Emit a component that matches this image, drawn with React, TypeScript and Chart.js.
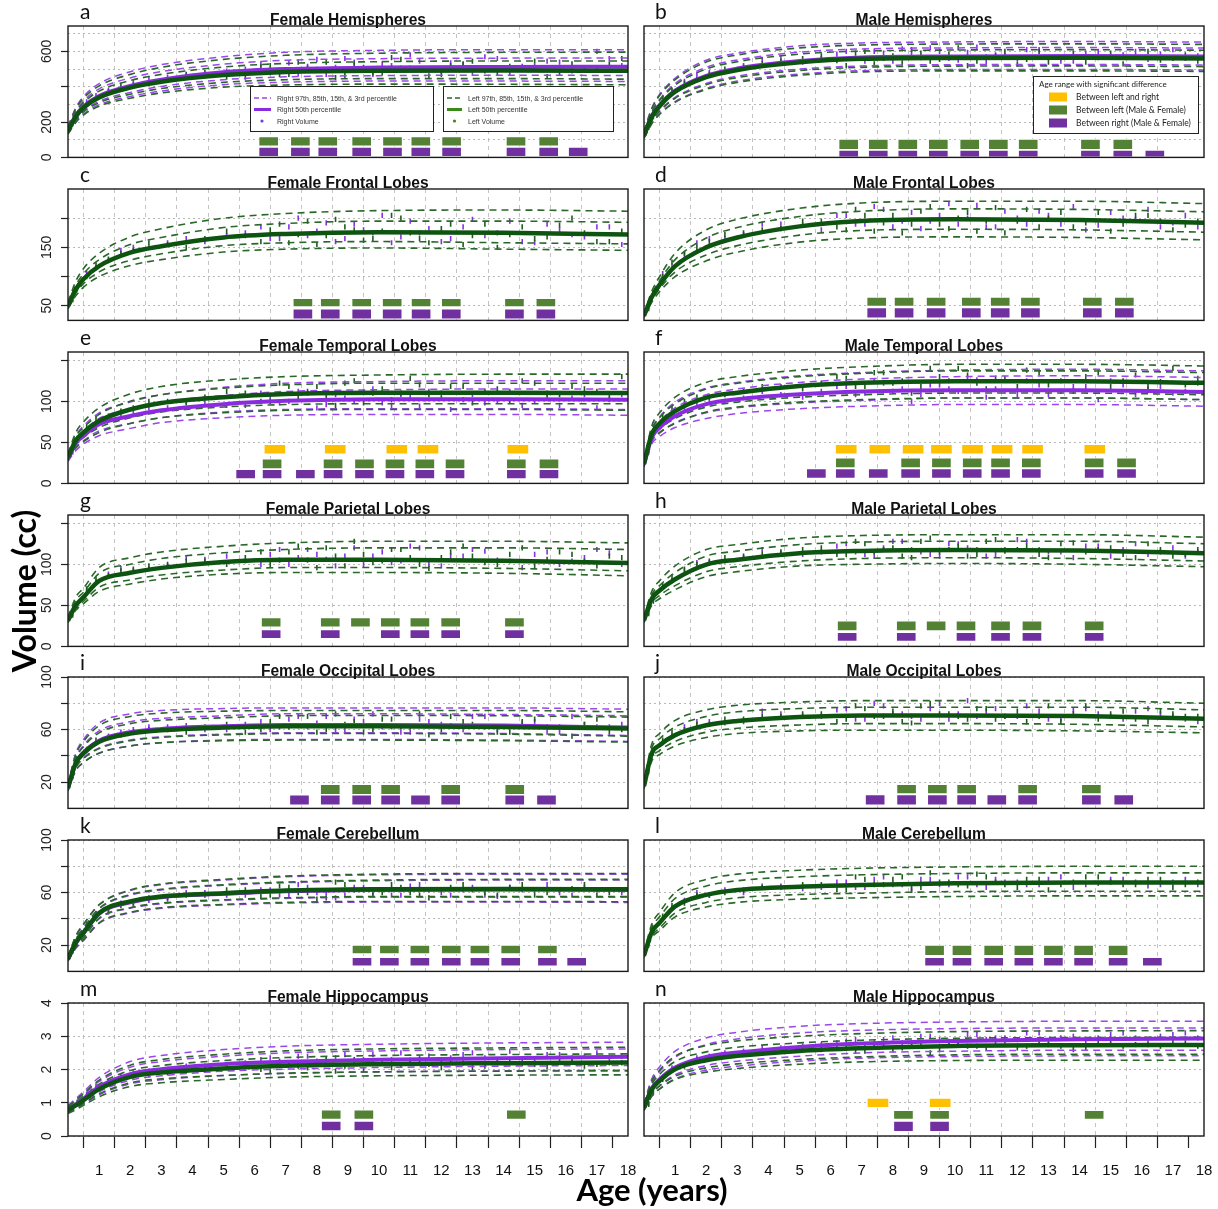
import React, { useEffect, useRef } from "react";
import { Chart, registerables } from "chart.js";

Chart.register(...registerables);

// ---------------- shared axis data ----------------
const AGES = [0, 0.25, 0.5, 1, 2, 3, 5, 7, 10, 14, 18];
const AGE_TICKS = [1, 2, 3, 4, 5, 6, 7, 8, 9, 10, 11, 12, 13, 14, 15, 16, 17, 18];
const SCATTER_AGES = [
  0.3, 0.9, 1.7, 2.6, 3.8, 5.1, 6.2, 6.8, 7.4, 8.0, 8.6, 9.2, 9.8, 10.4, 11.0, 11.6, 12.3, 13.0, 13.8, 14.6, 15.4, 16.2, 17.0, 17.8,
  0.15, 0.6, 1.3, 2.1, 3.2, 4.4, 5.7, 6.5, 7.1, 7.7, 8.3, 8.9, 9.5, 10.1, 10.7, 11.3, 12.0, 12.7, 13.4, 14.2, 15.0, 15.8, 16.6, 17.4,
];
const PERCENTILES = ["97th", "85th", "50th", "15th", "3rd"];

const PANEL_LETTERS = ["a", "b", "c", "d", "e", "f", "g", "h", "i", "j", "k", "l", "m", "n"];
const PANEL_TITLES = [
  "Female Hemispheres", "Male Hemispheres",
  "Female Frontal Lobes", "Male Frontal Lobes",
  "Female Temporal Lobes", "Male Temporal Lobes",
  "Female Parietal Lobes", "Male Parietal Lobes",
  "Female Occipital Lobes", "Male Occipital Lobes",
  "Female Cerebellum", "Male Cerebellum",
  "Female Hippocampus", "Male Hippocampus",
];

// y axis per row
const ROW_MIN = [0, 25, 0, 0, 0, 0, 0];
const ROW_MAX = [744, 250, 160, 160, 100, 100, 4];
const ROW_GRID = [
  [0, 100, 200, 300, 400, 500, 600, 700],
  [50, 100, 150, 200],
  [0, 50, 100, 150],
  [0, 50, 100, 150],
  [20, 40, 60, 80, 100],
  [20, 40, 60, 80, 100],
  [0, 1, 2, 3, 4],
];
const ROW_TICK_MARKS = [
  [0, 200, 400, 600],
  [50, 100, 150, 200],
  [0, 50, 100, 150],
  [0, 50, 100, 150],
  [20, 40, 60, 80, 100],
  [20, 40, 60, 80, 100],
  [0, 1, 2, 3, 4],
];
const ROW_TICK_LABELS = [
  [0, 200, 600],
  [50, 150],
  [0, 50, 100],
  [0, 50, 100],
  [20, 60, 100],
  [20, 60, 100],
  [0, 1, 2, 3, 4],
];

// ---------------- a: Female Hemispheres ----------------
const A_LEFT = [
  [172, 275, 335, 405, 470, 510, 555, 578, 590, 595, 596],
  [162, 255, 310, 375, 435, 470, 512, 532, 542, 546, 546],
  [150, 232, 282, 340, 395, 428, 466, 484, 491, 492, 490],
  [140, 212, 258, 310, 358, 390, 425, 440, 446, 446, 443],
  [132, 198, 240, 290, 335, 365, 398, 410, 415, 414, 411],
];
const A_RIGHT = [
  [175, 282, 345, 418, 485, 525, 570, 595, 606, 610, 610],
  [165, 262, 320, 388, 450, 486, 528, 550, 559, 562, 563],
  [152, 236, 288, 348, 405, 440, 482, 500, 509, 512, 513],
  [142, 216, 264, 318, 368, 402, 440, 456, 463, 465, 464],
  [134, 202, 246, 298, 345, 376, 412, 426, 432, 432, 430],
];
const A_DOTS_L = [235, 335, 402, 420, 470, 455, 512, 468, 540, 498, 452, 530, 478, 565, 505, 462, 520, 545, 480, 500, 458, 530, 495, 560,
  190, 300, 372, 410, 440, 480, 455, 520, 470, 505, 540, 465, 510, 480, 555, 500, 470, 530, 490, 515, 545, 475, 505, 530];
const A_DOTS_R = [240, 350, 390, 445, 462, 488, 530, 495, 475, 555, 510, 540, 470, 520, 580, 498, 535, 478, 560, 515, 545, 490, 600, 520,
  195, 315, 380, 425, 455, 470, 500, 480, 535, 515, 470, 560, 495, 530, 505, 545, 490, 525, 570, 480, 515, 540, 500, 560];
const A_GREEN_AT = [6.45, 7.47, 8.35, 9.44, 10.43, 11.34, 12.33, 14.4, 15.45];
const A_GREEN_SPAN = [64, 118];
const A_PURPLE_AT = [6.45, 7.47, 8.35, 9.44, 10.43, 11.34, 12.33, 14.4, 15.45, 16.4];
const A_PURPLE_SPAN = [4, 58];

// ---------------- b: Male Hemispheres ----------------
const B_LEFT = [
  [145, 275, 350, 440, 540, 580, 620, 636, 642, 643, 640],
  [135, 255, 322, 410, 500, 542, 585, 602, 608, 610, 607],
  [125, 230, 290, 372, 455, 495, 538, 558, 563, 564, 560],
  [115, 205, 260, 335, 412, 452, 492, 510, 517, 518, 514],
  [108, 190, 243, 312, 385, 425, 465, 484, 490, 490, 487],
];
const B_RIGHT = [
  [148, 280, 356, 448, 550, 590, 632, 648, 654, 656, 653],
  [138, 260, 328, 418, 510, 552, 596, 614, 620, 622, 619],
  [127, 234, 295, 378, 462, 503, 546, 566, 572, 574, 571],
  [117, 208, 264, 340, 418, 460, 500, 518, 525, 526, 523],
  [110, 193, 247, 316, 390, 432, 472, 491, 498, 498, 495],
];
const B_DOTS_L = [230, 380, 440, 500, 530, 560, 548, 590, 530, 575, 610, 545, 585, 520, 570, 600, 555, 540, 590, 565, 530, 600, 560, 545,
  170, 330, 420, 470, 510, 545, 575, 520, 600, 560, 535, 590, 555, 620, 545, 575, 530, 600, 565, 540, 590, 570, 550, 580];
const B_DOTS_R = [235, 370, 470, 485, 555, 540, 585, 560, 600, 545, 590, 620, 560, 595, 540, 575, 610, 565, 545, 600, 580, 555, 610, 575,
  175, 340, 430, 480, 520, 560, 560, 600, 545, 590, 615, 565, 600, 550, 625, 580, 560, 610, 545, 590, 570, 600, 585, 560];
const B_GREEN_AT = [6.58, 7.53, 8.48, 9.46, 10.47, 11.39, 12.35, 14.35, 15.39];
const B_GREEN_SPAN = [44, 104];
const B_PURPLE_AT = [6.58, 7.53, 8.48, 9.46, 10.47, 11.39, 12.35, 14.35, 15.39, 16.42];
const B_PURPLE_SPAN = [2, 42];

// ---------------- c: Female Frontal ----------------
const C_LEFT = [
  [56, 92, 114, 140, 168, 182, 200, 208, 213, 214, 212],
  [53, 85, 105, 129, 155, 167, 184, 191, 195, 195, 193],
  [50, 78, 96, 118, 141, 152, 167, 173, 176, 175, 172],
  [47, 72, 88, 108, 128, 139, 153, 158, 160, 158, 156],
  [45, 67, 82, 100, 119, 129, 142, 147, 149, 147, 145],
];
const C_DOTS_L = [80, 120, 140, 158, 150, 178, 160, 190, 172, 155, 198, 180, 165, 205, 175, 158, 190, 170, 150, 185, 168, 200, 160, 178,
  60, 100, 130, 145, 155, 165, 170, 180, 158, 195, 170, 185, 162, 178, 200, 165, 182, 155, 190, 172, 165, 188, 175, 160];
const C_DOTS_R = [82, 115, 145, 150, 165, 170, 185, 165, 200, 178, 160, 190, 175, 158, 195, 182, 165, 198, 175, 160, 190, 172, 185, 155,
  62, 105, 128, 150, 158, 160, 175, 165, 185, 170, 192, 165, 180, 205, 168, 175, 160, 185, 170, 195, 158, 180, 168, 185];
const C_GREEN_AT = [7.55, 8.43, 9.44, 10.42, 11.35, 12.32, 14.35, 15.36];
const C_GREEN_SPAN = [48, 63];
const C_PURPLE_AT = [7.55, 8.43, 9.44, 10.42, 11.35, 12.32, 14.35, 15.36];
const C_PURPLE_SPAN = [27, 45];

// ---------------- d: Male Frontal ----------------
const D_LEFT = [
  [36, 75, 100, 140, 180, 198, 217, 226, 229, 229, 225],
  [35, 70, 93, 129, 166, 184, 203, 212, 216, 215, 211],
  [33, 65, 86, 118, 150, 167, 186, 195, 198, 197, 192],
  [31, 60, 79, 108, 137, 153, 171, 179, 181, 180, 176],
  [30, 56, 74, 100, 127, 142, 159, 166, 168, 167, 163],
];
const D_DOTS_L = [70, 125, 150, 172, 180, 195, 185, 215, 178, 205, 190, 220, 182, 210, 195, 175, 215, 200, 185, 210, 190, 205, 180, 195,
  45, 100, 140, 160, 175, 182, 195, 180, 205, 192, 175, 212, 190, 200, 178, 218, 195, 185, 210, 192, 178, 205, 195, 188];
const D_DOTS_R = [72, 118, 158, 165, 190, 188, 205, 190, 220, 185, 210, 195, 225, 200, 185, 212, 190, 205, 220, 188, 200, 215, 192, 185,
  48, 105, 138, 165, 172, 190, 180, 205, 190, 215, 195, 182, 205, 190, 222, 185, 200, 212, 190, 180, 210, 198, 185, 205];
const D_GREEN_AT = [7.48, 8.36, 9.39, 10.52, 11.45, 12.42, 14.41, 15.44];
const D_GREEN_SPAN = [49, 65];
const D_PURPLE_AT = [7.48, 8.36, 9.39, 10.52, 11.45, 12.42, 14.41, 15.44];
const D_PURPLE_SPAN = [29, 47];

// ---------------- e: Female Temporal ----------------
const E_LEFT = [
  [36, 62, 75, 92, 109, 118, 126, 130, 132, 133, 133],
  [34, 57, 68, 84, 100, 108, 116, 120, 122, 122, 122],
  [32, 52, 62, 76, 90, 98, 105, 109, 110.5, 110.5, 110],
  [30, 47, 56, 68, 80, 87, 93, 96, 97, 97, 97],
  [28, 43, 51, 62, 73, 80, 86, 89, 90, 90, 89],
];
const E_RIGHT = [
  [35, 58, 70, 86, 99, 108, 117, 122, 124, 125, 125],
  [33, 53, 64, 79, 91, 99, 107, 112, 114, 115, 115],
  [31, 49, 58, 72, 82, 89, 96.5, 100.5, 102.5, 102.5, 102],
  [29, 44, 52, 64, 73, 80, 87, 90, 91, 91, 90],
  [27, 40, 48, 58, 67, 74, 80, 83, 84, 84, 83],
];
const E_DOTS_L = [55, 78, 88, 100, 98, 112, 100, 122, 105, 118, 95, 125, 110, 102, 128, 108, 118, 98, 115, 125, 105, 118, 112, 130,
  40, 68, 82, 92, 100, 105, 110, 100, 118, 112, 105, 122, 98, 115, 110, 120, 104, 118, 112, 100, 122, 108, 115, 105];
const E_DOTS_R = [52, 72, 85, 92, 100, 95, 110, 98, 112, 92, 108, 100, 115, 95, 105, 112, 90, 108, 100, 95, 110, 104, 92, 108,
  38, 65, 78, 85, 92, 98, 95, 105, 100, 110, 96, 104, 112, 98, 108, 94, 110, 102, 98, 112, 100, 95, 108, 102];
const E_YELLOW_AT = [6.65, 8.59, 10.57, 11.57, 14.46];
const E_YELLOW_SPAN = [35.5, 47.5];
const E_GREEN_AT = [6.56, 8.52, 9.53, 10.51, 11.47, 12.44, 14.41, 15.46];
const E_GREEN_SPAN = [17.5, 30];
const E_PURPLE_AT = [5.71, 6.56, 7.63, 8.52, 9.53, 10.51, 11.47, 12.44, 14.41, 15.46];
const E_PURPLE_SPAN = [5.5, 17];

// ---------------- f: Male Temporal ----------------
const F_LEFT = [
  [27, 70, 86, 105, 123, 130, 138, 142, 145, 145, 143],
  [26, 65, 80, 97, 115, 122, 130, 134, 137, 137, 135],
  [24, 60, 73, 88, 104.5, 110.5, 118.5, 122.5, 124.5, 124.5, 122.5],
  [22, 55, 66, 79, 93, 99, 105, 108, 110, 110, 108],
  [21, 52, 62, 73, 87, 93, 99, 102, 104, 104, 102],
];
const F_RIGHT = [
  [26, 66, 81, 99, 116, 123, 131, 135, 138, 139, 137],
  [25, 62, 75, 92, 108, 115, 123, 127, 130, 131, 129],
  [23, 56, 68, 82, 96.5, 102.5, 108.5, 111.8, 113.4, 113.4, 111.4],
  [21, 51, 61, 74, 86, 92, 98, 101, 104, 104, 102],
  [20, 48, 57, 68, 79, 85, 91, 94, 96, 96, 94],
];
const F_DOTS_L = [62, 92, 105, 108, 118, 115, 130, 118, 135, 122, 110, 140, 125, 132, 115, 128, 138, 120, 112, 135, 125, 118, 140, 128,
  40, 82, 100, 105, 112, 118, 122, 128, 118, 135, 125, 118, 130, 140, 122, 128, 118, 135, 125, 130, 118, 132, 124, 120];
const F_DOTS_R = [58, 84, 98, 100, 112, 105, 118, 108, 125, 112, 100, 120, 115, 128, 105, 112, 125, 108, 118, 102, 120, 115, 110, 122,
  38, 76, 92, 100, 104, 108, 112, 118, 110, 122, 115, 108, 120, 112, 126, 115, 108, 120, 112, 118, 125, 108, 118, 112];
const F_YELLOW_AT = [6.5, 7.58, 8.65, 9.56, 10.56, 11.51, 12.49, 14.49];
const F_YELLOW_SPAN = [35.5, 47.5];
const F_GREEN_AT = [6.47, 8.57, 9.56, 10.55, 11.46, 12.45, 14.47, 15.51];
const F_GREEN_SPAN = [19, 31];
const F_PURPLE_AT = [5.54, 6.47, 7.53, 8.57, 9.56, 10.55, 11.46, 12.45, 14.47, 15.51];
const F_PURPLE_SPAN = [6, 18];

// ---------------- g: Female Parietal ----------------
const G_LEFT = [
  [35, 60, 71, 96, 108, 115, 122, 126, 128, 128, 126],
  [34, 56, 66, 89, 100, 107, 114, 118, 120, 120, 118],
  [32, 50, 60, 79.7, 89.6, 95.6, 102.8, 105.6, 105.6, 104.4, 101.6],
  [30, 47, 55, 72, 81, 87, 93, 96, 96, 95, 92],
  [29, 44, 52, 67, 76, 82, 88, 90, 90, 89, 86],
];
const G_DOTS_L = [48, 82, 92, 98, 104, 100, 115, 105, 122, 96, 110, 128, 102, 118, 108, 95, 115, 110, 100, 120, 106, 112, 98, 108,
  38, 70, 86, 94, 100, 104, 108, 100, 115, 105, 120, 98, 112, 104, 118, 100, 108, 122, 102, 112, 98, 115, 104, 110];
const G_DOTS_R = [50, 78, 95, 95, 108, 110, 100, 118, 108, 112, 98, 120, 110, 102, 122, 100, 110, 118, 105, 96, 115, 104, 118, 100,
  40, 68, 88, 92, 98, 106, 104, 112, 100, 118, 106, 110, 100, 115, 104, 120, 98, 110, 116, 104, 112, 100, 108, 114];
const G_GREEN_AT = [6.53, 8.43, 9.4, 10.36, 11.31, 12.3, 14.35];
const G_GREEN_SPAN = [23.5, 35];
const G_PURPLE_AT = [6.53, 8.43, 10.36, 11.31, 12.3, 14.35];
const G_PURPLE_SPAN = [9.5, 20.5];

// ---------------- h: Male Parietal ----------------
const H_LEFT = [
  [35, 67, 80, 98, 118, 124, 132, 135, 136, 136, 133],
  [34, 63, 74, 90, 110, 116, 124, 127, 128, 128, 125],
  [32, 58, 68, 81.7, 99.6, 105.6, 113.5, 116.3, 117.5, 116.7, 113.5],
  [30, 53, 62, 74, 91, 97, 104, 107, 108, 107, 104],
  [29, 50, 58, 69, 85, 91, 98, 100, 101, 100, 97],
];
const H_DOTS_L = [55, 85, 100, 108, 112, 118, 112, 128, 115, 120, 108, 132, 118, 110, 128, 116, 122, 108, 126, 118, 112, 125, 110, 118,
  40, 74, 94, 104, 110, 115, 120, 112, 125, 118, 110, 128, 115, 122, 112, 130, 118, 112, 125, 115, 120, 108, 118, 112];
const H_DOTS_R = [57, 80, 102, 104, 118, 112, 122, 115, 110, 128, 118, 112, 125, 120, 110, 118, 128, 115, 108, 122, 118, 112, 120, 115,
  42, 72, 92, 102, 108, 114, 115, 125, 112, 120, 128, 115, 110, 125, 118, 112, 130, 118, 115, 122, 110, 125, 115, 110];
const H_GREEN_AT = [6.53, 8.43, 9.39, 10.35, 11.46, 12.47, 14.47];
const H_GREEN_SPAN = [19, 31];
const H_PURPLE_AT = [6.53, 8.43, 10.35, 11.46, 12.47, 14.47];
const H_PURPLE_SPAN = [6, 17];

// ---------------- i: Female Occipital ----------------
const I_LEFT = [
  [18, 41, 51, 63, 70, 72.5, 74, 74.5, 74.5, 74.5, 73.5],
  [17, 38, 47, 57.5, 64.5, 67, 69, 70.5, 70.75, 70.5, 69.5],
  [15.75, 34.5, 42, 50.75, 57, 59.5, 61.5, 62.5, 62.5, 62, 60.75],
  [14.5, 31, 38, 45.5, 51.5, 54, 56, 57, 57, 56.5, 55],
  [13.5, 29, 35, 42, 47.5, 50, 51.5, 52, 52, 51.5, 50.5],
];
const I_RIGHT = [
  [18, 42, 52.5, 65, 72, 74.5, 76, 76.5, 76.5, 76.5, 75.5],
  [17, 38.5, 48, 59, 66, 68.5, 70.5, 72, 72, 71.5, 70.5],
  [15.5, 34.5, 42.5, 51.5, 58, 60.5, 62.5, 63.5, 63.5, 63, 61.5],
  [14.5, 31, 38.5, 46, 52, 54.5, 56.5, 57.5, 57.5, 57, 55.5],
  [13.5, 28.5, 35, 42, 47.5, 50, 52, 52.5, 52.5, 52, 51],
];
const I_DOTS_L = [36, 52, 56, 60, 58, 64, 60, 70, 63, 58, 72, 66, 60, 68, 62, 56, 70, 64, 58, 66, 62, 55, 68, 60,
  24, 45, 54, 58, 60, 62, 58, 66, 62, 70, 60, 64, 58, 68, 62, 72, 60, 66, 62, 58, 68, 62, 64, 58];
const I_DOTS_R = [35, 50, 58, 62, 63, 60, 66, 62, 70, 65, 60, 68, 72, 62, 58, 66, 63, 70, 60, 65, 58, 70, 62, 64,
  25, 44, 55, 60, 62, 60, 64, 60, 68, 62, 70, 60, 66, 62, 58, 68, 64, 60, 70, 62, 66, 58, 64, 62];
const I_GREEN_AT = [8.43, 9.44, 10.37, 12.3, 14.36];
const I_GREEN_SPAN = [10.5, 18.25];
const I_PURPLE_AT = [7.44, 8.43, 9.44, 10.37, 11.33, 12.3, 14.36, 15.38];
const I_PURPLE_SPAN = [2.5, 10.25];

// ---------------- j: Male Occipital ----------------
const J_LEFT = [
  [19, 49, 57, 67, 75, 78.5, 81, 82, 82, 82, 80],
  [18, 46, 53, 62, 70, 73.5, 76, 77, 77, 77, 75],
  [17, 42, 48, 55.75, 63.25, 66.5, 69.5, 70.75, 70.75, 70.25, 68.25],
  [16, 38, 44, 51, 58, 61, 63.5, 64.5, 64.5, 64, 62],
  [15, 36, 41, 47.5, 54, 57, 59, 59.5, 59.5, 59, 57.5],
];
const J_DOTS_L = [42, 58, 64, 68, 70, 72, 66, 78, 70, 74, 65, 80, 72, 68, 76, 70, 66, 78, 72, 68, 74, 66, 72, 70,
  28, 52, 60, 64, 68, 70, 72, 68, 76, 70, 66, 78, 72, 70, 76, 68, 74, 70, 66, 78, 72, 68, 74, 70];
const J_DOTS_R = [44, 55, 66, 65, 74, 70, 75, 68, 80, 72, 70, 76, 68, 82, 74, 70, 78, 68, 75, 72, 68, 76, 70, 66,
  30, 50, 62, 66, 66, 72, 70, 76, 68, 78, 72, 68, 80, 72, 70, 76, 70, 74, 68, 76, 70, 74, 72, 68];
const J_GREEN_AT = [8.44, 9.43, 10.37, 12.33, 14.38];
const J_GREEN_SPAN = [11, 18.25];
const J_PURPLE_AT = [7.43, 8.44, 9.43, 10.37, 11.34, 12.33, 14.38, 15.42];
const J_PURPLE_SPAN = [2.5, 10.5];

// ---------------- k: Female Cerebellum ----------------
const K_LEFT = [
  [11, 27, 36, 50.75, 62, 66.5, 70, 72.5, 74, 74.5, 74.5],
  [10.5, 25, 33, 48, 58.5, 62.5, 66, 68, 69.5, 70, 70],
  [9.5, 22, 29.5, 44.5, 53.25, 57, 59.5, 61.5, 62.5, 62.75, 62.5],
  [8.5, 19.5, 26, 40.5, 48.5, 52, 54.5, 56, 57, 57, 57],
  [8, 18, 24, 37, 45, 48.5, 51, 52.5, 53.25, 53.25, 53],
];
const K_RIGHT = [
  [11, 26.5, 35.5, 50.5, 61.5, 66, 69.5, 72, 73.5, 74, 74],
  [10.5, 24.5, 32.5, 47.5, 58, 62, 65.5, 67.5, 69, 69.5, 69.5],
  [9.5, 21.5, 29, 44, 52.5, 56.5, 59, 61, 62, 62.25, 62],
  [8.5, 19, 25.5, 40, 48, 51.5, 54, 55.5, 56.5, 56.5, 56.5],
  [8, 17.5, 23.5, 36.5, 44.5, 48, 50.5, 52, 52.75, 52.75, 52.5],
];
const K_DOTS_L = [25, 44, 50, 56, 58, 62, 57, 65, 60, 55, 68, 62, 58, 66, 60, 56, 64, 62, 58, 66, 60, 63, 58, 62,
  16, 36, 46, 52, 56, 58, 62, 58, 64, 60, 56, 66, 62, 60, 64, 58, 62, 66, 60, 64, 58, 62, 66, 60];
const K_DOTS_R = [24, 42, 52, 54, 60, 58, 62, 58, 66, 60, 56, 64, 60, 58, 65, 62, 58, 64, 57, 62, 66, 58, 62, 60,
  15, 35, 45, 52, 55, 60, 58, 62, 58, 64, 60, 58, 64, 62, 58, 66, 60, 62, 58, 64, 62, 60, 64, 62];
const K_GREEN_AT = [9.45, 10.33, 11.31, 12.32, 13.24, 14.23, 15.41];
const K_GREEN_SPAN = [13.25, 20];
const K_PURPLE_AT = [9.45, 10.33, 11.31, 12.32, 13.24, 14.23, 15.41, 16.35];
const K_PURPLE_SPAN = [4, 10.75];

// ---------------- l: Male Cerebellum ----------------
const L_LEFT = [
  [14, 36, 45, 60, 70, 74, 77, 78.5, 79.5, 80, 80],
  [13, 33.5, 41.5, 55.5, 65, 69, 72, 73.5, 74.5, 75, 75],
  [12, 30, 37, 49.5, 58.25, 62, 64.5, 65.75, 67, 67.75, 67.75],
  [11, 27, 33, 44.5, 52.5, 56, 58.5, 59.5, 60.75, 61, 61],
  [10.5, 25.5, 31, 41.5, 49, 52.5, 55, 56, 57, 57.5, 57.5],
];
const L_DOTS_L = [32, 50, 58, 60, 64, 66, 62, 72, 66, 70, 63, 75, 68, 65, 72, 66, 70, 62, 68, 72, 66, 70, 64, 68,
  20, 42, 52, 58, 62, 64, 66, 62, 70, 66, 72, 64, 68, 66, 74, 68, 64, 70, 66, 72, 68, 66, 70, 66];
const L_DOTS_R = [30, 48, 60, 62, 65, 63, 68, 64, 70, 66, 62, 70, 66, 72, 64, 68, 66, 70, 64, 67, 70, 65, 68, 66,
  22, 40, 54, 58, 60, 65, 64, 68, 64, 72, 66, 70, 66, 72, 66, 70, 68, 66, 72, 66, 70, 68, 66, 70];
const L_GREEN_AT = [9.34, 10.22, 11.24, 12.21, 13.16, 14.13, 15.24];
const L_GREEN_SPAN = [12, 20];
const L_PURPLE_AT = [9.34, 10.22, 11.24, 12.21, 13.16, 14.13, 15.24, 16.34];
const L_PURPLE_SPAN = [4, 10.75];

// ---------------- m: Female Hippocampus ----------------
const M_LEFT = [
  [0.9, 1.08, 1.28, 1.68, 2.13, 2.3, 2.46, 2.56, 2.62, 2.65, 2.67],
  [0.85, 1.01, 1.19, 1.56, 1.97, 2.12, 2.27, 2.36, 2.42, 2.45, 2.47],
  [0.78, 0.92, 1.08, 1.41, 1.78, 1.91, 2.03, 2.11, 2.16, 2.19, 2.21],
  [0.72, 0.84, 0.98, 1.27, 1.6, 1.72, 1.82, 1.89, 1.93, 1.95, 1.96],
  [0.68, 0.79, 0.92, 1.18, 1.49, 1.6, 1.7, 1.77, 1.81, 1.83, 1.84],
];
const M_RIGHT = [
  [0.92, 1.12, 1.33, 1.76, 2.24, 2.42, 2.6, 2.7, 2.76, 2.8, 2.82],
  [0.87, 1.05, 1.24, 1.64, 2.07, 2.24, 2.4, 2.5, 2.56, 2.6, 2.62],
  [0.8, 0.95, 1.12, 1.48, 1.86, 2.01, 2.16, 2.23, 2.29, 2.34, 2.38],
  [0.74, 0.87, 1.02, 1.33, 1.68, 1.81, 1.95, 2.01, 2.06, 2.1, 2.12],
  [0.7, 0.82, 0.96, 1.24, 1.57, 1.69, 1.82, 1.88, 1.93, 1.96, 1.98],
];
const M_DOTS_L = [1.0, 1.42, 1.72, 1.85, 1.95, 2.05, 2.0, 2.25, 2.1, 2.15, 1.95, 2.3, 2.18, 2.05, 2.28, 2.15, 2.22, 2.05, 2.3, 2.18, 2.08, 2.25, 2.15, 2.2,
  0.85, 1.2, 1.6, 1.8, 1.9, 2.0, 2.1, 1.95, 2.2, 2.05, 2.3, 2.1, 2.0, 2.25, 2.15, 2.3, 2.05, 2.2, 2.1, 2.3, 2.15, 2.25, 2.1, 2.2];
const M_DOTS_R = [1.02, 1.5, 1.8, 1.95, 2.1, 2.15, 2.3, 2.2, 2.4, 2.25, 2.35, 2.2, 2.45, 2.3, 2.2, 2.4, 2.35, 2.5, 2.3, 2.25, 2.45, 2.35, 2.5, 2.4,
  0.88, 1.25, 1.65, 1.9, 2.0, 2.1, 2.2, 2.35, 2.15, 2.4, 2.25, 2.45, 2.3, 2.2, 2.5, 2.35, 2.3, 2.45, 2.35, 2.55, 2.3, 2.45, 2.4, 2.35];
const M_GREEN_AT = [8.46, 9.51, 14.41];
const M_GREEN_SPAN = [0.5, 0.79];
const M_PURPLE_AT = [8.46, 9.51];
const M_PURPLE_SPAN = [0.15, 0.45];

// ---------------- n: Male Hippocampus ----------------
const N_LEFT = [
  [0.95, 1.65, 1.98, 2.4, 2.72, 2.86, 3.0, 3.08, 3.14, 3.16, 3.17],
  [0.9, 1.55, 1.85, 2.24, 2.53, 2.67, 2.8, 2.88, 2.94, 2.96, 2.97],
  [0.85, 1.4, 1.66, 2.01, 2.28, 2.41, 2.56, 2.64, 2.71, 2.73, 2.74],
  [0.8, 1.27, 1.5, 1.8, 2.05, 2.17, 2.3, 2.38, 2.44, 2.46, 2.46],
  [0.77, 1.2, 1.41, 1.7, 1.92, 2.03, 2.16, 2.23, 2.27, 2.28, 2.28],
];
const N_RIGHT = [
  [0.97, 1.72, 2.08, 2.55, 2.95, 3.12, 3.3, 3.38, 3.43, 3.45, 3.45],
  [0.92, 1.6, 1.93, 2.37, 2.75, 2.92, 3.1, 3.18, 3.23, 3.25, 3.25],
  [0.86, 1.43, 1.7, 2.06, 2.38, 2.51, 2.68, 2.78, 2.86, 2.91, 2.93],
  [0.8, 1.28, 1.52, 1.84, 2.12, 2.25, 2.4, 2.5, 2.55, 2.58, 2.58],
  [0.76, 1.19, 1.42, 1.72, 1.98, 2.1, 2.25, 2.34, 2.39, 2.41, 2.41],
];
const N_DOTS_L = [1.3, 2.0, 2.3, 2.45, 2.55, 2.6, 2.65, 2.55, 2.8, 2.6, 2.7, 2.5, 2.8, 2.7, 2.65, 2.85, 2.7, 2.75, 2.6, 2.8, 2.7, 2.75, 2.85, 2.7,
  0.95, 1.7, 2.1, 2.35, 2.45, 2.55, 2.6, 2.7, 2.55, 2.75, 2.65, 2.8, 2.6, 2.75, 2.7, 2.85, 2.65, 2.8, 2.7, 2.65, 2.85, 2.75, 2.7, 2.8];
const N_DOTS_R = [1.35, 2.05, 2.35, 2.5, 2.65, 2.7, 2.8, 2.9, 2.7, 2.95, 2.8, 3.0, 2.85, 3.05, 2.9, 2.95, 3.1, 2.85, 3.0, 2.95, 3.1, 2.9, 3.05, 2.95,
  0.98, 1.75, 2.15, 2.4, 2.55, 2.65, 2.75, 2.85, 2.7, 2.9, 2.8, 3.0, 2.9, 2.8, 3.05, 2.95, 2.9, 3.1, 2.95, 2.85, 3.05, 2.95, 3.0, 3.1];
const N_YELLOW_AT = [7.52, 9.52];
const N_YELLOW_SPAN = [0.85, 1.14];
const N_GREEN_AT = [8.34, 9.5, 14.47];
const N_GREEN_SPAN = [0.5, 0.77];
const N_PURPLE_AT = [8.34, 9.5];
const N_PURPLE_SPAN = [0.13, 0.45];

// table built from the named arrays above
const PANELS: any[] = [
  { left: A_LEFT, right: A_RIGHT, dotsL: A_DOTS_L, dotsR: A_DOTS_R, g: [A_GREEN_AT, A_GREEN_SPAN], p: [A_PURPLE_AT, A_PURPLE_SPAN], y: null },
  { left: B_LEFT, right: B_RIGHT, dotsL: B_DOTS_L, dotsR: B_DOTS_R, g: [B_GREEN_AT, B_GREEN_SPAN], p: [B_PURPLE_AT, B_PURPLE_SPAN], y: null },
  { left: C_LEFT, right: null, dotsL: C_DOTS_L, dotsR: C_DOTS_R, g: [C_GREEN_AT, C_GREEN_SPAN], p: [C_PURPLE_AT, C_PURPLE_SPAN], y: null },
  { left: D_LEFT, right: null, dotsL: D_DOTS_L, dotsR: D_DOTS_R, g: [D_GREEN_AT, D_GREEN_SPAN], p: [D_PURPLE_AT, D_PURPLE_SPAN], y: null },
  { left: E_LEFT, right: E_RIGHT, dotsL: E_DOTS_L, dotsR: E_DOTS_R, g: [E_GREEN_AT, E_GREEN_SPAN], p: [E_PURPLE_AT, E_PURPLE_SPAN], y: [E_YELLOW_AT, E_YELLOW_SPAN] },
  { left: F_LEFT, right: F_RIGHT, dotsL: F_DOTS_L, dotsR: F_DOTS_R, g: [F_GREEN_AT, F_GREEN_SPAN], p: [F_PURPLE_AT, F_PURPLE_SPAN], y: [F_YELLOW_AT, F_YELLOW_SPAN] },
  { left: G_LEFT, right: null, dotsL: G_DOTS_L, dotsR: G_DOTS_R, g: [G_GREEN_AT, G_GREEN_SPAN], p: [G_PURPLE_AT, G_PURPLE_SPAN], y: null },
  { left: H_LEFT, right: null, dotsL: H_DOTS_L, dotsR: H_DOTS_R, g: [H_GREEN_AT, H_GREEN_SPAN], p: [H_PURPLE_AT, H_PURPLE_SPAN], y: null },
  { left: I_LEFT, right: I_RIGHT, dotsL: I_DOTS_L, dotsR: I_DOTS_R, g: [I_GREEN_AT, I_GREEN_SPAN], p: [I_PURPLE_AT, I_PURPLE_SPAN], y: null },
  { left: J_LEFT, right: null, dotsL: J_DOTS_L, dotsR: J_DOTS_R, g: [J_GREEN_AT, J_GREEN_SPAN], p: [J_PURPLE_AT, J_PURPLE_SPAN], y: null },
  { left: K_LEFT, right: K_RIGHT, dotsL: K_DOTS_L, dotsR: K_DOTS_R, g: [K_GREEN_AT, K_GREEN_SPAN], p: [K_PURPLE_AT, K_PURPLE_SPAN], y: null },
  { left: L_LEFT, right: null, dotsL: L_DOTS_L, dotsR: L_DOTS_R, g: [L_GREEN_AT, L_GREEN_SPAN], p: [L_PURPLE_AT, L_PURPLE_SPAN], y: null },
  { left: M_LEFT, right: M_RIGHT, dotsL: M_DOTS_L, dotsR: M_DOTS_R, g: [M_GREEN_AT, M_GREEN_SPAN], p: [M_PURPLE_AT, M_PURPLE_SPAN], y: null },
  { left: N_LEFT, right: N_RIGHT, dotsL: N_DOTS_L, dotsR: N_DOTS_R, g: [N_GREEN_AT, N_GREEN_SPAN], p: [N_PURPLE_AT, N_PURPLE_SPAN], y: [N_YELLOW_AT, N_YELLOW_SPAN] },
];

// ---------------- style / geometry ----------------
const GREEN_MED = "#0d5410";
const GREEN_DASH = "#2a682a";
const GREEN_DOT = "#1d5c1d";
const PURPLE_MED = "#8b2be0";
const PURPLE_DASH = "#9a46ec";
const PURPLE_DOT = "#8a2fe3";
const BAR_GREEN = "#548235";
const BAR_PURPLE = "#7030a0";
const BAR_YELLOW = "#ffc000";

const ROW_TOPS = [26, 189, 352, 515, 677, 840, 1003];
const BOX_H = 133;
const BOX_W = 560;
const PAD_TOP = 16;
const Y_LABEL_PAD = [2.3, 2.3, 2.3, 2.3, 2.3, 2.3, 10.1];

const boxPlugin = {
  id: "panelBox",
  afterDatasetsDraw(chart: any) {
    const { ctx, chartArea: a } = chart;
    ctx.save();
    ctx.strokeStyle = "#1a1a1a";
    ctx.lineWidth = 1.4;
    ctx.strokeRect(a.left, a.top, a.right - a.left, a.bottom - a.top);
    ctx.restore();
  },
};

function curve(vals: number[], color: string, width: number, dash: number[], order: number) {
  return {
    type: "line",
    data: AGES.map((a, i) => ({ x: a, y: vals[i] })),
    borderColor: color,
    borderWidth: width,
    borderDash: dash,
    pointRadius: 0,
    cubicInterpolationMode: "monotone",
    fill: false,
    order,
  };
}

function dots(vals: number[], color: string, order: number) {
  return {
    type: "line",
    showLine: false,
    data: SCATTER_AGES.map((a, i) => ({ x: a, y: vals[i] })),
    pointStyle: "line",
    pointRotation: 90,
    pointRadius: 2.6,
    pointBorderColor: color,
    pointBackgroundColor: color,
    pointBorderWidth: 1.6,
    order,
  };
}

function bars(spec: any, color: string, thickness: number) {
  const [at, span] = spec;
  return {
    type: "bar",
    data: at.map((c: number) => ({ x: c, y: [span[0], span[1]] })),
    backgroundColor: color,
    borderColor: "#ffffff",
    borderWidth: 1,
    borderSkipped: false,
    barThickness: thickness,
    grouped: false,
    order: 0,
  };
}

function PanelChart({ index }: { index: number }) {
  const ref = useRef<HTMLCanvasElement>(null);
  const row = Math.floor(index / 2);
  const col = index % 2;
  const isLeft = col === 0;
  const isBottom = row === 6;
  const canvasLeft = isLeft ? 0 : 632;
  const yAxisW = isLeft ? 68 : 12;
  const padRight = isLeft ? 12 : 14;
  const width = yAxisW + BOX_W + padRight;
  const xAxisH = isBottom ? 52 : 4;
  const height = PAD_TOP + BOX_H + xAxisH;
  const top = ROW_TOPS[row] - PAD_TOP;

  useEffect(() => {
    const p = PANELS[index];
    const datasets: any[] = [];
    if (p.y) datasets.push(bars(p.y, BAR_YELLOW, 22));
    datasets.push(bars(p.g, BAR_GREEN, 20));
    datasets.push(bars(p.p, BAR_PURPLE, 20));
    datasets.push(curve(p.left[2], GREEN_MED, 4.5, [], 1));
    if (p.right) datasets.push(curve(p.right[2], PURPLE_MED, 4, [], 2));
    [0, 1, 3, 4].forEach((k) => datasets.push(curve(p.left[k], GREEN_DASH, 1.6, [7, 5], 3)));
    if (p.right) [0, 1, 3, 4].forEach((k) => datasets.push(curve(p.right[k], PURPLE_DASH, 1.5, [7, 5], 4)));
    datasets.push(dots(p.dotsL, GREEN_DOT, 5));
    datasets.push(dots(p.dotsR, PURPLE_DOT, 6));

    const grid = ROW_GRID[row];
    const marks = ROW_TICK_MARKS[row];
    const labels = ROW_TICK_LABELS[row];

    const chart = new Chart(ref.current as HTMLCanvasElement, {
      type: "line",
      data: { datasets },
      plugins: [boxPlugin],
      options: {
        responsive: false,
        animation: false,
        devicePixelRatio: 1,
        events: [],
        layout: { padding: { left: 0, right: padRight, top: PAD_TOP, bottom: 0 } },
        plugins: { legend: { display: false }, tooltip: { enabled: false }, title: { display: false } },
        scales: {
          x: {
            type: "linear",
            min: 0,
            max: 18,
            offset: false,
            afterBuildTicks: (s: any) => {
              s.ticks = AGE_TICKS.map((v) => ({ value: v }));
            },
            afterFit: (s: any) => {
              s.height = xAxisH;
              s.paddingLeft = 0;
              s.paddingRight = 0;
            },
            grid: {
              color: (c: any) => (c.tick && c.tick.value >= 18 ? "rgba(0,0,0,0)" : "#c4c4c4"),
              lineWidth: 1,
              borderDash: [4, 4],
              drawTicks: isBottom,
              tickLength: 12,
              tickColor: "#222",
              tickWidth: 1.2,
              tickBorderDash: [],
            },
            border: { display: false, dash: [4, 4] },
            ticks: {
              display: isBottom,
              autoSkip: false,
              maxRotation: 0,
              padding: 14,
              color: "#111",
              font: { family: "'Liberation Sans Narrow', 'Liberation Sans', Arial, sans-serif", size: 15 },
              callback: (v: any) => String(v),
            },
          },
          y: {
            type: "linear",
            min: ROW_MIN[row],
            max: ROW_MAX[row],
            afterBuildTicks: (s: any) => {
              s.ticks = grid.map((v) => ({ value: v }));
            },
            afterFit: (s: any) => {
              s.width = yAxisW;
              s.paddingTop = 0;
              s.paddingBottom = 0;
            },
            grid: {
              color: "#b8b8b8",
              lineWidth: 1,
              borderDash: [2, 3],
              drawTicks: isLeft,
              tickLength: 7,
              tickWidth: 1.2,
              tickBorderDash: [],
              tickColor: (c: any) => (c.tick && marks.includes(c.tick.value) ? "#222" : "rgba(0,0,0,0)"),
            },
            border: { display: false, dash: [2, 3] },
            ticks: {
              display: isLeft,
              autoSkip: false,
              minRotation: 90,
              maxRotation: 90,
              crossAlign: "center",
              padding: Y_LABEL_PAD[row],
              color: "#222",
              font: { family: "'Liberation Sans', Arial, sans-serif", size: 14 },
              callback: (v: any) => (labels.includes(v) ? String(v) : ""),
            },
          },
        },
      } as any,
    } as any);
    return () => chart.destroy();
  }, [index]);

  return (
    <canvas
      ref={ref}
      width={width}
      height={height}
      style={{ position: "absolute", left: canvasLeft, top, width, height }}
    />
  );
}

function Overlay() {
  const sans = "'Liberation Sans', Arial, sans-serif";
  const lato = "Lato, 'Open Sans', sans-serif";
  return (
    <svg width={1218} height={1209} style={{ position: "absolute", left: 0, top: 0 }}>
      {PANEL_TITLES.map((t, i) => {
        const row = Math.floor(i / 2);
        const col = i % 2;
        return (
          <text key={t} x={col ? 924 : 348} y={ROW_TOPS[row] - 1} textAnchor="middle" fontFamily={sans} fontWeight="bold" fontSize={15.6} fill="#111">
            {t}
          </text>
        );
      })}
      {PANEL_LETTERS.map((l, i) => {
        const row = Math.floor(i / 2);
        const col = i % 2;
        return (
          <text key={l} x={col ? 655 : 80} y={ROW_TOPS[row] - 7} fontFamily={lato} fontSize={21} fill="#111">
            {l}
          </text>
        );
      })}
      <text transform="translate(36,591) rotate(-90)" textAnchor="middle" fontFamily={lato} fontWeight="bold" fontSize={32} fill="#000">
        Volume (cc)
      </text>
      <text x={652} y={1201} textAnchor="middle" fontFamily={lato} fontWeight="bold" fontSize={31} fill="#000">
        Age (years)
      </text>

      {/* legend panel a: right */}
      <rect x={250.5} y={86.5} width={183} height={45} fill="#fff" stroke="#222" strokeWidth={1} />
      <line x1={254} x2={271} y1={98} y2={98} stroke={PURPLE_DASH} strokeWidth={1.3} strokeDasharray="5 3" />
      <line x1={254} x2={271} y1={109.5} y2={109.5} stroke={PURPLE_MED} strokeWidth={3} />
      <circle cx={262} cy={121} r={1.6} fill={PURPLE_DOT} />
      <text x={277} y={100.5} fontFamily={sans} fontSize={7} fill="#333">Right {PERCENTILES[0]}, {PERCENTILES[1]}, {PERCENTILES[3]}, &amp; {PERCENTILES[4]} percentile</text>
      <text x={277} y={112} fontFamily={sans} fontSize={7} fill="#333">Right {PERCENTILES[2]} percentile</text>
      <text x={277} y={123.5} fontFamily={sans} fontSize={7} fill="#333">Right Volume</text>

      {/* legend panel a: left */}
      <rect x={443.5} y={86.5} width={170} height={45} fill="#fff" stroke="#222" strokeWidth={1} />
      <line x1={447} x2={462} y1={98} y2={98} stroke={GREEN_DASH} strokeWidth={1.3} strokeDasharray="5 3" />
      <line x1={447} x2={462} y1={109.5} y2={109.5} stroke="#3a8a1a" strokeWidth={3} />
      <circle cx={454.5} cy={121} r={1.6} fill="#3a8a1a" />
      <text x={468} y={100.5} fontFamily={sans} fontSize={7} fill="#333">Left {PERCENTILES[0]}, {PERCENTILES[1]}, {PERCENTILES[3]}, &amp; {PERCENTILES[4]} percentile</text>
      <text x={468} y={112} fontFamily={sans} fontSize={7} fill="#333">Left {PERCENTILES[2]} percentile</text>
      <text x={468} y={123.5} fontFamily={sans} fontSize={7} fill="#333">Left Volume</text>

      {/* legend panel b */}
      <rect x={1033.5} y={76.5} width={165} height={57} fill="#fff" stroke="#222" strokeWidth={1} />
      <text x={1039} y={86.5} fontFamily={lato} fontSize={8} fill="#222">Age range with significant difference</text>
      <rect x={1049} y={92.5} width={18} height={9} fill={BAR_YELLOW} />
      <rect x={1049} y={105.5} width={18} height={9} fill={BAR_GREEN} />
      <rect x={1049} y={118.5} width={18} height={9} fill={BAR_PURPLE} />
      <text x={1076} y={100} fontFamily={lato} fontSize={8.5} fill="#222">Between left and right</text>
      <text x={1076} y={113} fontFamily={lato} fontSize={8.5} fill="#222">Between left (Male &amp; Female)</text>
      <text x={1076} y={126} fontFamily={lato} fontSize={8.5} fill="#222">Between right (Male &amp; Female)</text>
    </svg>
  );
}

export default function App() {
  return (
    <div style={{ position: "absolute", left: 0, top: 0, width: 1218, height: 1209, background: "#fff", overflow: "hidden" }}>
      {PANELS.map((_, i) => (
        <PanelChart key={i} index={i} />
      ))}
      <Overlay />
    </div>
  );
}
